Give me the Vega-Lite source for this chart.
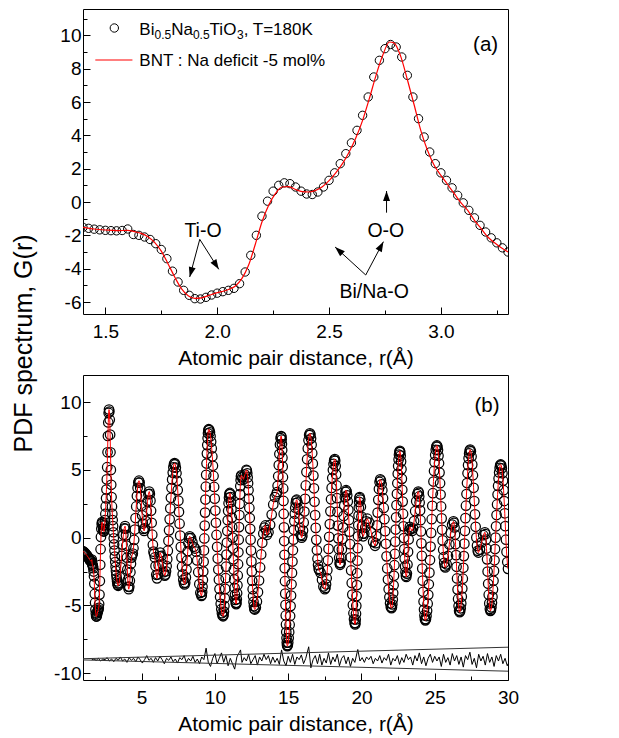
{
"$schema": "https://vega.github.io/schema/vega-lite/v6.json",
"padding": {"left": 10, "top": 8, "right": 5, "bottom": 5},
"bounds": "flush",
"spacing": 61,
"config": {
  "font": "Liberation Sans",
  "view": {"stroke": "black", "strokeWidth": 1},
  "axis": {"domain": false, "grid": false, "tickColor": "black", "tickWidth": 1, "labelColor": "black", "labelFontSize": 19, "labelFont": "Liberation Sans", "titleFont": "Liberation Sans", "titleFontSize": 21, "titleFontWeight": "normal", "titleColor": "black", "labelFlush": false, "labelOverlap": false},
  "text": {"font": "Liberation Sans", "color": "black"}
},
"datasets": {
"pdf": [
{"r":1.0,"g":-1.0},{"r":1.05,"g":-1.05},{"r":1.1,"g":-1.1},{"r":1.15,"g":-1.16},{"r":1.2,"g":-1.22},{"r":1.25,"g":-1.29},{"r":1.3,"g":-1.36},{"r":1.35,"g":-1.44},
{"r":1.4,"g":-1.52},{"r":1.425,"g":-1.58},{"r":1.45,"g":-1.63},{"r":1.475,"g":-1.67},{"r":1.5,"g":-1.7},{"r":1.525,"g":-1.72},{"r":1.55,"g":-1.73},{"r":1.575,"g":-1.71},{"r":1.6,"g":-1.62},{"r":1.625,"g":-1.95},{"r":1.65,"g":-2.0},{"r":1.675,"g":-2.1},{"r":1.7,"g":-2.25},{"r":1.725,"g":-2.5},{"r":1.75,"g":-2.85},{"r":1.775,"g":-3.4},{"r":1.8,"g":-4.15},{"r":1.825,"g":-4.8},{"r":1.85,"g":-5.3},{"r":1.875,"g":-5.6},{"r":1.9,"g":-5.8},{"r":1.925,"g":-5.82},{"r":1.95,"g":-5.72},{"r":1.975,"g":-5.58},{"r":2.0,"g":-5.47},{"r":2.025,"g":-5.38},{"r":2.05,"g":-5.3},{"r":2.075,"g":-5.18},{"r":2.1,"g":-4.9},{"r":2.125,"g":-4.2},{"r":2.15,"g":-3.2},{"r":2.175,"g":-2.0},{"r":2.2,"g":-0.85},{"r":2.225,"g":0.05},{"r":2.25,"g":0.65},{"r":2.275,"g":1.0},{"r":2.3,"g":1.15},{"r":2.325,"g":1.1},{"r":2.35,"g":0.9},{"r":2.375,"g":0.65},{"r":2.4,"g":0.48},{"r":2.425,"g":0.45},{"r":2.45,"g":0.6},{"r":2.475,"g":0.9},{"r":2.5,"g":1.3},{"r":2.525,"g":1.75},{"r":2.55,"g":2.3},{"r":2.575,"g":2.9},{"r":2.6,"g":3.55},{"r":2.625,"g":4.3},{"r":2.65,"g":5.2},{"r":2.675,"g":6.3},{"r":2.7,"g":7.5},{"r":2.725,"g":8.5},{"r":2.75,"g":9.2},{"r":2.775,"g":9.45},{"r":2.8,"g":9.3},{"r":2.825,"g":8.7},{"r":2.85,"g":7.6},{"r":2.875,"g":6.3},{"r":2.9,"g":5.0},{"r":2.925,"g":3.9},{"r":2.95,"g":3.0},{"r":2.975,"g":2.3},{"r":3.0,"g":1.75},{"r":3.025,"g":1.3},{"r":3.05,"g":0.85},{"r":3.075,"g":0.4},{"r":3.1,"g":-0.05},{"r":3.125,"g":-0.5},{"r":3.15,"g":-0.95},{"r":3.175,"g":-1.4},{"r":3.2,"g":-1.8},{"r":3.225,"g":-2.15},{"r":3.25,"g":-2.45},{"r":3.275,"g":-2.75},{"r":3.3,"g":-3.0},{"r":3.325,"g":-3.22},{"r":3.35,"g":-3.38},{"r":3.375,"g":-3.49},{"r":3.4,"g":-3.55},
{"r":3.459,"g":-3.38},{"r":3.518,"g":-2.91},{"r":3.576,"g":-2.19},{"r":3.635,"g":-1.35},{"r":3.694,"g":-0.51},{"r":3.753,"g":0.21},{"r":3.811,"g":0.68},{"r":3.87,"g":0.85},
{"r":3.901,"g":0.67},{"r":3.933,"g":0.17},{"r":3.964,"g":-0.59},{"r":3.995,"g":-1.48},{"r":4.026,"g":-2.36},{"r":4.058,"g":-3.12},{"r":4.089,"g":-3.62},{"r":4.12,"g":-3.8},
{"r":4.158,"g":-3.63},{"r":4.197,"g":-3.18},{"r":4.235,"g":-2.55},{"r":4.273,"g":-1.93},{"r":4.312,"g":-1.47},{"r":4.35,"g":-1.3},
{"r":4.397,"g":-1.17},{"r":4.444,"g":-0.78},{"r":4.491,"g":-0.17},{"r":4.538,"g":0.6},{"r":4.585,"g":1.45},{"r":4.632,"g":2.3},{"r":4.679,"g":3.07},{"r":4.726,"g":3.67},{"r":4.773,"g":4.07},{"r":4.82,"g":4.2},
{"r":4.864,"g":4.06},{"r":4.908,"g":3.66},{"r":4.951,"g":3.06},{"r":4.995,"g":2.35},{"r":5.039,"g":1.64},{"r":5.083,"g":1.04},{"r":5.126,"g":0.64},{"r":5.17,"g":0.5},
{"r":5.228,"g":0.69},{"r":5.287,"g":1.23},{"r":5.345,"g":1.95},{"r":5.403,"g":2.68},{"r":5.462,"g":3.21},{"r":5.52,"g":3.4},
{"r":5.561,"g":3.23},{"r":5.603,"g":2.73},{"r":5.644,"g":1.98},{"r":5.685,"g":1.1},{"r":5.726,"g":0.22},{"r":5.768,"g":-0.53},{"r":5.809,"g":-1.03},{"r":5.85,"g":-1.2},
{"r":5.9,"g":-1.46},{"r":5.95,"g":-2.1},{"r":6.0,"g":-2.74},{"r":6.05,"g":-3.0},
{"r":6.105,"g":-2.72},{"r":6.16,"g":-2.05},{"r":6.215,"g":-1.38},{"r":6.27,"g":-1.1},
{"r":6.348,"g":-1.35},{"r":6.425,"g":-1.95},{"r":6.503,"g":-2.55},{"r":6.58,"g":-2.8},
{"r":6.622,"g":-2.72},{"r":6.664,"g":-2.48},{"r":6.706,"g":-2.1},{"r":6.748,"g":-1.59},{"r":6.789,"g":-0.96},{"r":6.831,"g":-0.24},{"r":6.873,"g":0.54},{"r":6.915,"g":1.35},{"r":6.957,"g":2.16},{"r":6.999,"g":2.94},{"r":7.041,"g":3.66},{"r":7.083,"g":4.29},{"r":7.124,"g":4.8},{"r":7.166,"g":5.19},{"r":7.208,"g":5.42},{"r":7.25,"g":5.5},
{"r":7.293,"g":5.41},{"r":7.335,"g":5.16},{"r":7.378,"g":4.75},{"r":7.42,"g":4.19},{"r":7.463,"g":3.51},{"r":7.505,"g":2.73},{"r":7.548,"g":1.9},{"r":7.59,"g":1.03},{"r":7.633,"g":0.15},{"r":7.675,"g":-0.68},{"r":7.718,"g":-1.46},{"r":7.76,"g":-2.14},{"r":7.803,"g":-2.7},{"r":7.845,"g":-3.11},{"r":7.888,"g":-3.36},{"r":7.93,"g":-3.45},
{"r":7.974,"g":-3.32},{"r":8.018,"g":-2.93},{"r":8.061,"g":-2.35},{"r":8.105,"g":-1.68},{"r":8.149,"g":-1.0},{"r":8.193,"g":-0.42},{"r":8.236,"g":-0.04},{"r":8.28,"g":0.1},
{"r":8.373,"g":-0.03},{"r":8.465,"g":-0.35},{"r":8.558,"g":-0.67},{"r":8.65,"g":-0.8},
{"r":8.722,"g":-1.03},{"r":8.793,"g":-1.68},{"r":8.865,"g":-2.55},{"r":8.937,"g":-3.43},{"r":9.008,"g":-4.07},{"r":9.08,"g":-4.3},
{"r":9.105,"g":-4.23},{"r":9.13,"g":-4.0},{"r":9.155,"g":-3.63},{"r":9.18,"g":-3.13},{"r":9.205,"g":-2.5},{"r":9.23,"g":-1.77},{"r":9.255,"g":-0.94},{"r":9.28,"g":-0.06},{"r":9.305,"g":0.89},{"r":9.33,"g":1.85},{"r":9.355,"g":2.81},{"r":9.38,"g":3.76},{"r":9.405,"g":4.64},{"r":9.43,"g":5.47},{"r":9.455,"g":6.2},{"r":9.48,"g":6.83},{"r":9.505,"g":7.33},{"r":9.53,"g":7.7},{"r":9.555,"g":7.93},{"r":9.58,"g":8.0},
{"r":9.621,"g":7.94},{"r":9.662,"g":7.77},{"r":9.703,"g":7.48},{"r":9.743,"g":7.08},{"r":9.784,"g":6.58},{"r":9.825,"g":5.99},{"r":9.866,"g":5.3},{"r":9.907,"g":4.55},{"r":9.948,"g":3.74},{"r":9.988,"g":2.88},{"r":10.029,"g":2.0},{"r":10.07,"g":1.1},{"r":10.111,"g":0.2},{"r":10.152,"g":-0.68},{"r":10.193,"g":-1.54},{"r":10.233,"g":-2.35},{"r":10.274,"g":-3.1},{"r":10.315,"g":-3.79},{"r":10.356,"g":-4.38},{"r":10.397,"g":-4.88},{"r":10.438,"g":-5.28},{"r":10.479,"g":-5.57},{"r":10.519,"g":-5.74},{"r":10.56,"g":-5.8},
{"r":10.589,"g":-5.71},{"r":10.618,"g":-5.45},{"r":10.646,"g":-5.04},{"r":10.675,"g":-4.47},{"r":10.704,"g":-3.78},{"r":10.733,"g":-2.99},{"r":10.761,"g":-2.14},{"r":10.79,"g":-1.25},{"r":10.819,"g":-0.36},{"r":10.848,"g":0.49},{"r":10.876,"g":1.28},{"r":10.905,"g":1.97},{"r":10.934,"g":2.54},{"r":10.963,"g":2.95},{"r":10.991,"g":3.21},{"r":11.02,"g":3.3},
{"r":11.047,"g":3.22},{"r":11.074,"g":2.99},{"r":11.101,"g":2.61},{"r":11.128,"g":2.1},{"r":11.154,"g":1.48},{"r":11.181,"g":0.77},{"r":11.208,"g":0.0},{"r":11.235,"g":-0.8},{"r":11.262,"g":-1.6},{"r":11.289,"g":-2.37},{"r":11.316,"g":-3.08},{"r":11.343,"g":-3.7},{"r":11.369,"g":-4.21},{"r":11.396,"g":-4.59},{"r":11.423,"g":-4.82},{"r":11.45,"g":-4.9},
{"r":11.472,"g":-4.81},{"r":11.494,"g":-4.54},{"r":11.516,"g":-4.1},{"r":11.538,"g":-3.51},{"r":11.559,"g":-2.79},{"r":11.581,"g":-1.96},{"r":11.603,"g":-1.08},{"r":11.625,"g":-0.15},{"r":11.647,"g":0.78},{"r":11.669,"g":1.67},{"r":11.691,"g":2.49},{"r":11.713,"g":3.21},{"r":11.734,"g":3.8},{"r":11.756,"g":4.24},{"r":11.778,"g":4.51},{"r":11.8,"g":4.6},
{"r":11.875,"g":4.45},{"r":11.95,"g":4.3},{"r":12.05,"g":4.65},{"r":12.15,"g":5.0},
{"r":12.179,"g":4.94},{"r":12.207,"g":4.75},{"r":12.236,"g":4.44},{"r":12.264,"g":4.02},{"r":12.293,"g":3.5},{"r":12.321,"g":2.88},{"r":12.35,"g":2.19},{"r":12.378,"g":1.45},{"r":12.407,"g":0.65},{"r":12.435,"g":-0.15},{"r":12.464,"g":-0.95},{"r":12.492,"g":-1.75},{"r":12.521,"g":-2.49},{"r":12.549,"g":-3.18},{"r":12.578,"g":-3.8},{"r":12.606,"g":-4.32},{"r":12.635,"g":-4.74},{"r":12.663,"g":-5.05},{"r":12.692,"g":-5.24},{"r":12.72,"g":-5.3},
{"r":12.793,"g":-5.15},{"r":12.866,"g":-4.71},{"r":12.939,"g":-4.02},{"r":13.012,"g":-3.16},{"r":13.085,"g":-2.2},{"r":13.158,"g":-1.24},{"r":13.231,"g":-0.38},{"r":13.304,"g":0.31},{"r":13.377,"g":0.75},{"r":13.45,"g":0.9},
{"r":13.5,"g":0.55},{"r":13.55,"g":0.2},
{"r":13.658,"g":0.4},{"r":13.767,"g":0.95},{"r":13.875,"g":1.7},{"r":13.983,"g":2.45},{"r":14.092,"g":3.0},{"r":14.2,"g":3.2},
{"r":14.24,"g":3.36},{"r":14.28,"g":3.83},{"r":14.32,"g":4.53},{"r":14.36,"g":5.35},{"r":14.4,"g":6.17},{"r":14.44,"g":6.87},{"r":14.48,"g":7.34},{"r":14.52,"g":7.5},
{"r":14.538,"g":7.43},{"r":14.555,"g":7.24},{"r":14.573,"g":6.91},{"r":14.59,"g":6.46},{"r":14.608,"g":5.9},{"r":14.625,"g":5.24},{"r":14.643,"g":4.46},{"r":14.66,"g":3.63},{"r":14.678,"g":2.71},{"r":14.695,"g":1.75},{"r":14.713,"g":0.76},{"r":14.73,"g":-0.25},{"r":14.748,"g":-1.26},{"r":14.765,"g":-2.25},{"r":14.783,"g":-3.21},{"r":14.8,"g":-4.13},{"r":14.818,"g":-4.96},{"r":14.835,"g":-5.74},{"r":14.853,"g":-6.4},{"r":14.87,"g":-6.96},{"r":14.888,"g":-7.41},{"r":14.905,"g":-7.74},{"r":14.923,"g":-7.93},{"r":14.94,"g":-8.0},
{"r":14.972,"g":-7.94},{"r":15.004,"g":-7.74},{"r":15.036,"g":-7.41},{"r":15.068,"g":-6.97},{"r":15.1,"g":-6.42},{"r":15.132,"g":-5.78},{"r":15.164,"g":-5.05},{"r":15.196,"g":-4.27},{"r":15.228,"g":-3.44},{"r":15.26,"g":-2.6},{"r":15.292,"g":-1.76},{"r":15.324,"g":-0.93},{"r":15.356,"g":-0.15},{"r":15.388,"g":0.58},{"r":15.42,"g":1.22},{"r":15.452,"g":1.77},{"r":15.484,"g":2.21},{"r":15.516,"g":2.54},{"r":15.548,"g":2.74},{"r":15.58,"g":2.8},
{"r":15.637,"g":2.61},{"r":15.693,"g":2.1},{"r":15.75,"g":1.4},{"r":15.807,"g":0.7},{"r":15.863,"g":0.19},{"r":15.92,"g":0.0},
{"r":15.967,"g":0.13},{"r":16.013,"g":0.52},{"r":16.06,"g":1.12},{"r":16.107,"g":1.93},{"r":16.153,"g":2.86},{"r":16.2,"g":3.85},{"r":16.247,"g":4.84},{"r":16.293,"g":5.78},{"r":16.34,"g":6.58},{"r":16.387,"g":7.18},{"r":16.433,"g":7.57},{"r":16.48,"g":7.7},
{"r":16.52,"g":7.6},{"r":16.56,"g":7.32},{"r":16.6,"g":6.85},{"r":16.64,"g":6.23},{"r":16.68,"g":5.46},{"r":16.72,"g":4.58},{"r":16.76,"g":3.64},{"r":16.8,"g":2.65},{"r":16.84,"g":1.66},{"r":16.88,"g":0.72},{"r":16.92,"g":-0.16},{"r":16.96,"g":-0.93},{"r":17.0,"g":-1.55},{"r":17.04,"g":-2.02},{"r":17.08,"g":-2.3},{"r":17.12,"g":-2.4},
{"r":17.215,"g":-2.6},{"r":17.31,"g":-3.1},{"r":17.405,"g":-3.6},{"r":17.5,"g":-3.8},
{"r":17.543,"g":-3.71},{"r":17.585,"g":-3.44},{"r":17.628,"g":-2.99},{"r":17.67,"g":-2.4},{"r":17.713,"g":-1.67},{"r":17.755,"g":-0.83},{"r":17.798,"g":0.06},{"r":17.84,"g":1.0},{"r":17.883,"g":1.94},{"r":17.925,"g":2.83},{"r":17.968,"g":3.67},{"r":18.01,"g":4.4},{"r":18.053,"g":4.99},{"r":18.095,"g":5.44},{"r":18.138,"g":5.7},{"r":18.18,"g":5.8},
{"r":18.21,"g":5.67},{"r":18.24,"g":5.28},{"r":18.27,"g":4.66},{"r":18.3,"g":3.85},{"r":18.33,"g":2.91},{"r":18.36,"g":1.9},{"r":18.39,"g":0.89},{"r":18.42,"g":-0.05},{"r":18.45,"g":-0.86},{"r":18.48,"g":-1.48},{"r":18.51,"g":-1.87},{"r":18.54,"g":-2.0},
{"r":18.581,"g":-1.87},{"r":18.622,"g":-1.48},{"r":18.663,"g":-0.87},{"r":18.704,"g":-0.1},{"r":18.745,"g":0.75},{"r":18.786,"g":1.6},{"r":18.827,"g":2.37},{"r":18.868,"g":2.98},{"r":18.909,"g":3.37},{"r":18.95,"g":3.5},
{"r":18.989,"g":3.41},{"r":19.028,"g":3.12},{"r":19.066,"g":2.67},{"r":19.105,"g":2.05},{"r":19.144,"g":1.3},{"r":19.183,"g":0.44},{"r":19.221,"g":-0.48},{"r":19.26,"g":-1.45},{"r":19.299,"g":-2.42},{"r":19.338,"g":-3.34},{"r":19.376,"g":-4.2},{"r":19.415,"g":-4.96},{"r":19.454,"g":-5.57},{"r":19.493,"g":-6.02},{"r":19.531,"g":-6.3},{"r":19.57,"g":-6.4},
{"r":19.589,"g":-6.31},{"r":19.609,"g":-6.04},{"r":19.628,"g":-5.61},{"r":19.648,"g":-5.03},{"r":19.667,"g":-4.31},{"r":19.686,"g":-3.5},{"r":19.706,"g":-2.62},{"r":19.725,"g":-1.7},{"r":19.744,"g":-0.78},{"r":19.764,"g":0.1},{"r":19.783,"g":0.91},{"r":19.803,"g":1.63},{"r":19.822,"g":2.21},{"r":19.841,"g":2.64},{"r":19.861,"g":2.91},{"r":19.88,"g":3.0},
{"r":19.92,"g":2.81},{"r":19.96,"g":2.28},{"r":20.0,"g":1.55},{"r":20.04,"g":0.83},{"r":20.08,"g":0.29},{"r":20.12,"g":0.1},
{"r":20.19,"g":0.29},{"r":20.26,"g":0.75},{"r":20.33,"g":1.21},{"r":20.4,"g":1.4},
{"r":20.533,"g":1.11},{"r":20.665,"g":0.4},{"r":20.798,"g":-0.31},{"r":20.93,"g":-0.6},
{"r":20.974,"g":-0.41},{"r":21.018,"g":0.12},{"r":21.061,"g":0.91},{"r":21.105,"g":1.85},{"r":21.149,"g":2.79},{"r":21.193,"g":3.59},{"r":21.236,"g":4.11},{"r":21.28,"g":4.3},
{"r":21.328,"g":4.21},{"r":21.376,"g":3.94},{"r":21.424,"g":3.5},{"r":21.473,"g":2.91},{"r":21.521,"g":2.19},{"r":21.569,"g":1.36},{"r":21.617,"g":0.48},{"r":21.665,"g":-0.45},{"r":21.713,"g":-1.38},{"r":21.761,"g":-2.27},{"r":21.809,"g":-3.09},{"r":21.858,"g":-3.81},{"r":21.906,"g":-4.4},{"r":21.954,"g":-4.84},{"r":22.002,"g":-5.11},{"r":22.05,"g":-5.2},
{"r":22.079,"g":-5.13},{"r":22.107,"g":-4.92},{"r":22.136,"g":-4.57},{"r":22.164,"g":-4.09},{"r":22.193,"g":-3.51},{"r":22.221,"g":-2.81},{"r":22.25,"g":-2.03},{"r":22.278,"g":-1.2},{"r":22.307,"g":-0.3},{"r":22.335,"g":0.6},{"r":22.364,"g":1.5},{"r":22.392,"g":2.4},{"r":22.421,"g":3.23},{"r":22.449,"g":4.01},{"r":22.478,"g":4.71},{"r":22.506,"g":5.29},{"r":22.535,"g":5.77},{"r":22.563,"g":6.12},{"r":22.592,"g":6.33},{"r":22.62,"g":6.4},
{"r":22.648,"g":6.31},{"r":22.675,"g":6.05},{"r":22.703,"g":5.62},{"r":22.73,"g":5.04},{"r":22.758,"g":4.34},{"r":22.785,"g":3.53},{"r":22.813,"g":2.66},{"r":22.84,"g":1.75},{"r":22.868,"g":0.84},{"r":22.895,"g":-0.03},{"r":22.923,"g":-0.84},{"r":22.95,"g":-1.54},{"r":22.978,"g":-2.12},{"r":23.005,"g":-2.55},{"r":23.033,"g":-2.81},{"r":23.06,"g":-2.9},
{"r":23.1,"g":-2.65},{"r":23.14,"g":-1.98},{"r":23.18,"g":-1.05},{"r":23.22,"g":-0.13},{"r":23.26,"g":0.55},{"r":23.3,"g":0.8},
{"r":23.375,"g":0.65},{"r":23.45,"g":0.5},
{"r":23.522,"g":0.69},{"r":23.593,"g":1.23},{"r":23.665,"g":1.95},{"r":23.737,"g":2.68},{"r":23.808,"g":3.21},{"r":23.88,"g":3.4},
{"r":23.91,"g":3.31},{"r":23.94,"g":3.04},{"r":23.97,"g":2.6},{"r":24.0,"g":2.01},{"r":24.03,"g":1.29},{"r":24.06,"g":0.46},{"r":24.09,"g":-0.42},{"r":24.12,"g":-1.35},{"r":24.15,"g":-2.28},{"r":24.18,"g":-3.17},{"r":24.21,"g":-3.99},{"r":24.24,"g":-4.71},{"r":24.27,"g":-5.3},{"r":24.3,"g":-5.74},{"r":24.33,"g":-6.01},{"r":24.36,"g":-6.1},
{"r":24.4,"g":-6.02},{"r":24.439,"g":-5.78},{"r":24.479,"g":-5.4},{"r":24.518,"g":-4.87},{"r":24.558,"g":-4.22},{"r":24.597,"g":-3.44},{"r":24.637,"g":-2.58},{"r":24.676,"g":-1.65},{"r":24.716,"g":-0.66},{"r":24.755,"g":0.35},{"r":24.795,"g":1.36},{"r":24.834,"g":2.35},{"r":24.874,"g":3.28},{"r":24.913,"g":4.14},{"r":24.953,"g":4.92},{"r":24.992,"g":5.57},{"r":25.032,"g":6.1},{"r":25.071,"g":6.48},{"r":25.111,"g":6.72},{"r":25.15,"g":6.8},
{"r":25.186,"g":6.71},{"r":25.221,"g":6.46},{"r":25.257,"g":6.04},{"r":25.293,"g":5.49},{"r":25.328,"g":4.8},{"r":25.364,"g":4.02},{"r":25.399,"g":3.18},{"r":25.435,"g":2.3},{"r":25.471,"g":1.42},{"r":25.506,"g":0.58},{"r":25.542,"g":-0.2},{"r":25.578,"g":-0.89},{"r":25.613,"g":-1.44},{"r":25.649,"g":-1.86},{"r":25.684,"g":-2.11},{"r":25.72,"g":-2.2},
{"r":25.813,"g":-1.97},{"r":25.907,"g":-1.35},{"r":26.0,"g":-0.5},{"r":26.093,"g":0.35},{"r":26.187,"g":0.97},{"r":26.28,"g":1.2},
{"r":26.315,"g":1.09},{"r":26.35,"g":0.75},{"r":26.385,"g":0.22},{"r":26.42,"g":-0.48},{"r":26.455,"g":-1.29},{"r":26.49,"g":-2.15},{"r":26.525,"g":-3.01},{"r":26.56,"g":-3.83},{"r":26.595,"g":-4.52},{"r":26.63,"g":-5.05},{"r":26.665,"g":-5.39},{"r":26.7,"g":-5.5},
{"r":26.736,"g":-5.43},{"r":26.772,"g":-5.21},{"r":26.808,"g":-4.85},{"r":26.844,"g":-4.35},{"r":26.88,"g":-3.75},{"r":26.916,"g":-3.03},{"r":26.952,"g":-2.22},{"r":26.988,"g":-1.36},{"r":27.024,"g":-0.44},{"r":27.06,"g":0.5},{"r":27.096,"g":1.44},{"r":27.132,"g":2.36},{"r":27.168,"g":3.22},{"r":27.204,"g":4.03},{"r":27.24,"g":4.75},{"r":27.276,"g":5.35},{"r":27.312,"g":5.85},{"r":27.348,"g":6.21},{"r":27.384,"g":6.43},{"r":27.42,"g":6.5},
{"r":27.467,"g":6.37},{"r":27.513,"g":5.99},{"r":27.56,"g":5.39},{"r":27.607,"g":4.6},{"r":27.653,"g":3.68},{"r":27.7,"g":2.7},{"r":27.747,"g":1.72},{"r":27.793,"g":0.8},{"r":27.84,"g":0.01},{"r":27.887,"g":-0.59},{"r":27.933,"g":-0.97},{"r":27.98,"g":-1.1},
{"r":28.09,"g":-0.88},{"r":28.2,"g":-0.35},{"r":28.31,"g":0.18},{"r":28.42,"g":0.4},
{"r":28.458,"g":0.26},{"r":28.496,"g":-0.15},{"r":28.534,"g":-0.8},{"r":28.572,"g":-1.6},{"r":28.61,"g":-2.5},{"r":28.648,"g":-3.4},{"r":28.686,"g":-4.21},{"r":28.724,"g":-4.85},{"r":28.762,"g":-5.26},{"r":28.8,"g":-5.4},
{"r":28.835,"g":-5.34},{"r":28.87,"g":-5.14},{"r":28.905,"g":-4.81},{"r":28.94,"g":-4.37},{"r":28.975,"g":-3.82},{"r":29.01,"g":-3.18},{"r":29.045,"g":-2.45},{"r":29.08,"g":-1.67},{"r":29.115,"g":-0.84},{"r":29.15,"g":0.0},{"r":29.185,"g":0.84},{"r":29.22,"g":1.67},{"r":29.255,"g":2.45},{"r":29.29,"g":3.18},{"r":29.325,"g":3.82},{"r":29.36,"g":4.37},{"r":29.395,"g":4.81},{"r":29.43,"g":5.14},{"r":29.465,"g":5.34},{"r":29.5,"g":5.4},
{"r":29.54,"g":5.33},{"r":29.58,"g":5.12},{"r":29.62,"g":4.75},{"r":29.66,"g":4.2},{"r":29.7,"g":3.5},{"r":29.74,"g":2.7},{"r":29.78,"g":1.8},{"r":29.82,"g":0.85},{"r":29.86,"g":-0.15},{"r":29.9,"g":-1.05},{"r":29.95,"g":-1.8},{"r":30.0,"g":-2.3}
],
"fit": [
{"r":1.4,"g":-1.52},{"r":1.45,"g":-1.62},{"r":1.5,"g":-1.68},{"r":1.55,"g":-1.72},{"r":1.6,"g":-1.7},{"r":1.63,"g":-1.78},{"r":1.66,"g":-1.88},{"r":1.69,"g":-2.08},{"r":1.72,"g":-2.42},{"r":1.75,"g":-2.95},{"r":1.78,"g":-3.7},{"r":1.81,"g":-4.5},{"r":1.84,"g":-5.2},{"r":1.87,"g":-5.62},{"r":1.9,"g":-5.78},{"r":1.93,"g":-5.75},{"r":1.96,"g":-5.62},{"r":1.99,"g":-5.48},{"r":2.02,"g":-5.38},{"r":2.05,"g":-5.25},{"r":2.08,"g":-5.05},{"r":2.11,"g":-4.6},{"r":2.14,"g":-3.8},{"r":2.17,"g":-2.55},{"r":2.2,"g":-1.2},{"r":2.23,"g":-0.2},{"r":2.26,"g":0.5},{"r":2.29,"g":0.9},{"r":2.32,"g":0.92},{"r":2.35,"g":0.75},{"r":2.38,"g":0.62},{"r":2.41,"g":0.6},{"r":2.44,"g":0.7},{"r":2.47,"g":0.92},{"r":2.5,"g":1.28},{"r":2.53,"g":1.75},{"r":2.56,"g":2.3},{"r":2.59,"g":3.0},{"r":2.62,"g":3.85},{"r":2.65,"g":4.9},{"r":2.68,"g":6.2},{"r":2.71,"g":7.6},{"r":2.74,"g":8.8},{"r":2.77,"g":9.6},{"r":2.79,"g":9.55},{"r":2.82,"g":8.75},{"r":2.85,"g":7.35},{"r":2.88,"g":5.85},{"r":2.91,"g":4.3},{"r":2.94,"g":3.1},{"r":2.97,"g":2.2},{"r":3.0,"g":1.6},{"r":3.03,"g":1.05},{"r":3.06,"g":0.5},{"r":3.09,"g":-0.05},{"r":3.12,"g":-0.5},{"r":3.15,"g":-1.1},{"r":3.18,"g":-1.6},{"r":3.21,"g":-2.1},{"r":3.24,"g":-2.45},{"r":3.27,"g":-2.75},{"r":3.3,"g":-3.0}
],
"diff": [
{"r":1.6,"g":-9.0},{"r":1.75,"g":-8.95},{"r":1.9,"g":-9.05},{"r":2.05,"g":-8.9},{"r":2.2,"g":-9.1},{"r":2.35,"g":-8.95},{"r":2.5,"g":-9.0},{"r":2.65,"g":-8.85},{"r":2.8,"g":-9.1},{"r":2.95,"g":-8.95},{"r":3.1,"g":-9.15},{"r":3.25,"g":-8.9},{"r":3.4,"g":-9.05},{"r":3.55,"g":-8.8},{"r":3.7,"g":-9.1},{"r":3.85,"g":-8.95},{"r":4.0,"g":-9.2},{"r":4.15,"g":-8.85},{"r":4.3,"g":-9.05},{"r":4.45,"g":-8.9},{"r":4.6,"g":-9.15},{"r":4.75,"g":-8.8},{"r":4.9,"g":-9.0},{"r":5.05,"g":-9.25},{"r":5.2,"g":-9.0},{"r":5.35,"g":-8.7},{"r":5.5,"g":-9.05},{"r":5.65,"g":-8.9},{"r":5.8,"g":-9.2},{"r":5.95,"g":-8.85},{"r":6.1,"g":-9.1},{"r":6.25,"g":-8.75},{"r":6.4,"g":-9.0},{"r":6.55,"g":-9.3},{"r":6.7,"g":-8.9},{"r":6.85,"g":-9.05},{"r":7.0,"g":-8.8},{"r":7.15,"g":-9.15},{"r":7.3,"g":-8.95},{"r":7.45,"g":-9.25},{"r":7.6,"g":-8.85},{"r":7.75,"g":-9.0},{"r":7.9,"g":-8.7},{"r":8.05,"g":-9.2},{"r":8.2,"g":-8.9},{"r":8.35,"g":-9.1},{"r":8.5,"g":-8.75},{"r":8.65,"g":-9.2},{"r":8.8,"g":-8.95},{"r":8.95,"g":-9.3},{"r":9.1,"g":-8.8},{"r":9.25,"g":-9.0},{"r":9.4,"g":-8.15},{"r":9.55,"g":-9.2},{"r":9.7,"g":-9.5},{"r":9.85,"g":-8.9},{"r":10.0,"g":-8.55},{"r":10.15,"g":-9.3},{"r":10.3,"g":-8.9},{"r":10.45,"g":-8.5},{"r":10.6,"g":-9.2},{"r":10.75,"g":-8.7},{"r":10.9,"g":-9.45},{"r":11.05,"g":-8.9},{"r":11.2,"g":-9.3},{"r":11.35,"g":-9.7},{"r":11.5,"g":-8.8},{"r":11.65,"g":-8.5},{"r":11.75,"g":-8.28},{"r":11.85,"g":-9.2},{"r":12.0,"g":-8.85},{"r":12.15,"g":-9.1},{"r":12.3,"g":-8.6},{"r":12.45,"g":-9.3},{"r":12.6,"g":-9.0},{"r":12.75,"g":-8.7},{"r":12.9,"g":-9.4},{"r":13.05,"g":-8.8},{"r":13.2,"g":-9.1},{"r":13.35,"g":-8.6},{"r":13.5,"g":-9.0},{"r":13.65,"g":-8.7},{"r":13.8,"g":-9.3},{"r":13.95,"g":-8.8},{"r":14.1,"g":-9.2},{"r":14.25,"g":-8.9},{"r":14.4,"g":-9.35},{"r":14.55,"g":-8.28},{"r":14.7,"g":-9.1},{"r":14.85,"g":-9.45},{"r":15.0,"g":-8.75},{"r":15.15,"g":-9.2},{"r":15.3,"g":-8.6},{"r":15.45,"g":-9.35},{"r":15.6,"g":-8.8},{"r":15.75,"g":-9.0},{"r":15.9,"g":-8.65},{"r":16.05,"g":-9.3},{"r":16.2,"g":-8.9},{"r":16.4,"g":-8.05},{"r":16.55,"g":-9.6},{"r":16.7,"g":-9.0},{"r":16.85,"g":-8.7},{"r":17.0,"g":-9.3},{"r":17.15,"g":-8.6},{"r":17.3,"g":-9.4},{"r":17.45,"g":-8.9},{"r":17.6,"g":-9.25},{"r":17.75,"g":-8.5},{"r":17.9,"g":-9.35},{"r":18.05,"g":-8.8},{"r":18.2,"g":-9.15},{"r":18.35,"g":-8.6},{"r":18.5,"g":-9.45},{"r":18.65,"g":-8.9},{"r":18.8,"g":-8.7},{"r":18.95,"g":-9.3},{"r":19.1,"g":-8.8},{"r":19.25,"g":-9.5},{"r":19.4,"g":-8.9},{"r":19.55,"g":-9.2},{"r":19.75,"g":-8.25},{"r":19.9,"g":-9.1},{"r":20.05,"g":-8.85},{"r":20.2,"g":-9.2},{"r":20.35,"g":-8.8},{"r":20.5,"g":-9.0},{"r":20.65,"g":-8.75},{"r":20.8,"g":-9.3},{"r":20.95,"g":-8.9},{"r":21.1,"g":-9.1},{"r":21.25,"g":-8.7},{"r":21.4,"g":-9.25},{"r":21.55,"g":-8.85},{"r":21.7,"g":-9.05},{"r":21.85,"g":-8.6},{"r":22.0,"g":-9.4},{"r":22.15,"g":-8.9},{"r":22.3,"g":-9.1},{"r":22.45,"g":-8.7},{"r":22.6,"g":-9.35},{"r":22.75,"g":-8.85},{"r":22.9,"g":-9.2},{"r":23.05,"g":-8.6},{"r":23.2,"g":-9.0},{"r":23.35,"g":-8.8},{"r":23.5,"g":-9.4},{"r":23.65,"g":-8.7},{"r":23.8,"g":-9.1},{"r":23.95,"g":-8.5},{"r":24.1,"g":-9.3},{"r":24.25,"g":-8.8},{"r":24.4,"g":-9.45},{"r":24.55,"g":-8.9},{"r":24.7,"g":-8.6},{"r":24.85,"g":-9.2},{"r":25.0,"g":-8.75},{"r":25.15,"g":-9.1},{"r":25.3,"g":-8.8},{"r":25.45,"g":-9.5},{"r":25.6,"g":-8.6},{"r":25.75,"g":-9.2},{"r":25.9,"g":-8.85},{"r":26.05,"g":-9.4},{"r":26.2,"g":-8.55},{"r":26.35,"g":-9.1},{"r":26.5,"g":-8.7},{"r":26.65,"g":-9.35},{"r":26.8,"g":-8.8},{"r":26.95,"g":-9.55},{"r":27.1,"g":-8.7},{"r":27.25,"g":-9.0},{"r":27.4,"g":-8.45},{"r":27.55,"g":-9.35},{"r":27.7,"g":-8.9},{"r":27.85,"g":-9.6},{"r":28.0,"g":-8.6},{"r":28.15,"g":-9.1},{"r":28.3,"g":-8.75},{"r":28.45,"g":-9.4},{"r":28.6,"g":-8.55},{"r":28.75,"g":-9.2},{"r":28.9,"g":-8.8},{"r":29.05,"g":-9.5},{"r":29.2,"g":-8.7},{"r":29.35,"g":-9.1},{"r":29.5,"g":-8.6},{"r":29.65,"g":-9.3},{"r":29.8,"g":-8.9},{"r":29.95,"g":-9.45},{"r":30.0,"g":-9.3}
],
"env": [
{"r":1,"g":-8.93,"s":"upper"},{"r":30,"g":-8.08,"s":"upper"},{"r":1,"g":-9.02,"s":"lower"},{"r":30,"g":-9.85,"s":"lower"}
]
},
"vconcat": [
{
 "width": 425, "height": 305,
 "resolve": {"axis": {"x": "independent", "y": "independent"}},
 "layer": [
  {"data": {"name": "pdf"}, "transform": [{"filter": {"field": "r", "range": [1.39, 3.31]}}],
   "mark": {"type": "point", "shape": "circle", "filled": false, "stroke": "black", "strokeWidth": 1, "size": 70, "opacity": 1, "clip": true},
   "encoding": {
    "x": {"field": "r", "type": "quantitative", "scale": {"domain": [1.4, 3.3], "nice": false, "zero": false},
          "axis": {"orient": "bottom", "values": [1.5, 2, 2.5, 3], "format": ".1f", "tickSize": -7, "labelPadding": 15, "title": "Atomic pair distance, r(Å)", "titlePadding": 6}},
    "y": {"field": "g", "type": "quantitative", "scale": {"domain": [-6.72, 11.58], "nice": false, "zero": false},
          "axis": {"orient": "left", "values": [-6, -4, -2, 0, 2, 4, 6, 8, 10], "format": "d", "labelExpr": "replace(datum.label, '−', '-')", "tickSize": -7, "labelPadding": 9, "title": "PDF spectrum, G(r)", "titleFontSize": 25, "titleX": -52, "titleY": 334, "titleBaseline": "alphabetic"}}
   }},
  {"data": {"name": "fit"},
   "mark": {"type": "line", "color": "red", "strokeWidth": 1.2, "interpolate": "monotone", "clip": true},
   "encoding": {
    "x": {"field": "r", "type": "quantitative", "axis": {"orient": "bottom", "values": [1.5, 1.75, 2, 2.25, 2.5, 2.75, 3, 3.25], "labels": false, "tickSize": -4, "title": null}},
    "y": {"field": "g", "type": "quantitative", "axis": {"orient": "left", "values": [-6, -5, -4, -3, -2, -1, 0, 1, 2, 3, 4, 5, 6, 7, 8, 9, 10, 11], "labels": false, "tickSize": -4, "title": null}}
   }},
  {"data": {"values": [{}]}, "mark": {"type": "point", "shape": "circle", "filled": false, "stroke": "black", "strokeWidth": 1, "size": 70, "opacity": 1},
   "encoding": {"x": {"datum": 1.54, "type": "quantitative", "axis": null}, "y": {"datum": 10.44, "type": "quantitative", "axis": null}}},
  {"data": {"values": [{}]}, "mark": {"type": "text", "text": "Bi", "fontSize": 17, "align": "left", "baseline": "alphabetic"},
   "encoding": {"x": {"datum": 1.652, "type": "quantitative", "axis": null}, "y": {"datum": 10.0, "type": "quantitative", "axis": null}}},
  {"data": {"values": [{}]}, "mark": {"type": "text", "text": "0.5", "fontSize": 12, "dy": 4, "align": "left", "baseline": "alphabetic"},
   "encoding": {"x": {"datum": 1.7197, "type": "quantitative", "axis": null}, "y": {"datum": 10.0, "type": "quantitative", "axis": null}}},
  {"data": {"values": [{}]}, "mark": {"type": "text", "text": "Na", "fontSize": 17, "align": "left", "baseline": "alphabetic"},
   "encoding": {"x": {"datum": 1.7943, "type": "quantitative", "axis": null}, "y": {"datum": 10.0, "type": "quantitative", "axis": null}}},
  {"data": {"values": [{}]}, "mark": {"type": "text", "text": "0.5", "fontSize": 12, "dy": 4, "align": "left", "baseline": "alphabetic"},
   "encoding": {"x": {"datum": 1.8914, "type": "quantitative", "axis": null}, "y": {"datum": 10.0, "type": "quantitative", "axis": null}}},
  {"data": {"values": [{}]}, "mark": {"type": "text", "text": "TiO", "fontSize": 17, "align": "left", "baseline": "alphabetic"},
   "encoding": {"x": {"datum": 1.966, "type": "quantitative", "axis": null}, "y": {"datum": 10.0, "type": "quantitative", "axis": null}}},
  {"data": {"values": [{}]}, "mark": {"type": "text", "text": "3", "fontSize": 12, "dy": 4, "align": "left", "baseline": "alphabetic"},
   "encoding": {"x": {"datum": 2.0884, "type": "quantitative", "axis": null}, "y": {"datum": 10.0, "type": "quantitative", "axis": null}}},
  {"data": {"values": [{}]}, "mark": {"type": "text", "text": ", T=180K", "fontSize": 17, "align": "left", "baseline": "alphabetic"},
   "encoding": {"x": {"datum": 2.1182, "type": "quantitative", "axis": null}, "y": {"datum": 10.0, "type": "quantitative", "axis": null}}},
  {"data": {"values": [{}]}, "mark": {"type": "rule", "color": "red", "strokeWidth": 1.2},
   "encoding": {"x": {"datum": 1.455, "type": "quantitative", "axis": null}, "x2": {"datum": 1.621}, "y": {"datum": 8.52, "type": "quantitative", "axis": null}}},
  {"data": {"values": [{}]}, "mark": {"type": "text", "text": "BNT : Na deficit -5 mol%", "fontSize": 17, "align": "left", "baseline": "alphabetic"},
   "encoding": {"x": {"datum": 1.652, "type": "quantitative", "axis": null}, "y": {"datum": 8.16, "type": "quantitative", "axis": null}}},
  {"data": {"values": [{}]}, "mark": {"type": "text", "text": "(a)", "fontSize": 20.5, "align": "center", "baseline": "middle"},
   "encoding": {"x": {"datum": 3.2, "type": "quantitative", "axis": null}, "y": {"datum": 9.42, "type": "quantitative", "axis": null}}},
  {"data": {"values": [{}]}, "mark": {"type": "text", "text": "Ti-O", "fontSize": 19.5, "align": "center", "baseline": "alphabetic"},
   "encoding": {"x": {"datum": 1.9366, "type": "quantitative", "axis": null}, "y": {"datum": -2.08, "type": "quantitative", "axis": null}}},
  {"data": {"values": [{}]}, "mark": {"type": "text", "text": "O-O", "fontSize": 19.5, "align": "center", "baseline": "alphabetic"},
   "encoding": {"x": {"datum": 2.7537, "type": "quantitative", "axis": null}, "y": {"datum": -2.08, "type": "quantitative", "axis": null}}},
  {"data": {"values": [{}]}, "mark": {"type": "text", "text": "Bi/Na-O", "fontSize": 19.5, "align": "center", "baseline": "alphabetic"},
   "encoding": {"x": {"datum": 2.7015, "type": "quantitative", "axis": null}, "y": {"datum": -5.74, "type": "quantitative", "axis": null}}},
  {"data": {"values": [{}]}, "mark": {"type": "rule", "color": "black", "strokeWidth": 1},
   "encoding": {"x": {"datum": 1.922, "type": "quantitative", "axis": null}, "y": {"datum": -2.24, "type": "quantitative", "axis": null}, "x2": {"datum": 1.877}, "y2": {"datum": -4.5}}},
  {"data": {"values": [{}]}, "mark": {"type": "rule", "color": "black", "strokeWidth": 1},
   "encoding": {"x": {"datum": 1.922, "type": "quantitative", "axis": null}, "y": {"datum": -2.24, "type": "quantitative", "axis": null}, "x2": {"datum": 2.007}, "y2": {"datum": -4.04}}},
  {"data": {"values": [{}]}, "mark": {"type": "rule", "color": "black", "strokeWidth": 1},
   "encoding": {"x": {"datum": 2.757, "type": "quantitative", "axis": null}, "y": {"datum": -0.64, "type": "quantitative", "axis": null}, "x2": {"datum": 2.757}, "y2": {"datum": 0.66}}},
  {"data": {"values": [{}]}, "mark": {"type": "rule", "color": "black", "strokeWidth": 1},
   "encoding": {"x": {"datum": 2.664, "type": "quantitative", "axis": null}, "y": {"datum": -4.38, "type": "quantitative", "axis": null}, "x2": {"datum": 2.527}, "y2": {"datum": -2.7}}},
  {"data": {"values": [{}]}, "mark": {"type": "rule", "color": "black", "strokeWidth": 1},
   "encoding": {"x": {"datum": 2.664, "type": "quantitative", "axis": null}, "y": {"datum": -4.38, "type": "quantitative", "axis": null}, "x2": {"datum": 2.743}, "y2": {"datum": -2.38}}},
  {"data": {"values": [{}]}, "mark": {"type": "point", "shape": "M0,0L-0.7,2L0.7,2Z", "filled": true, "color": "black", "size": 100, "angle": 194.9, "opacity": 1},
   "encoding": {"x": {"datum": 1.877, "type": "quantitative", "axis": null}, "y": {"datum": -4.5, "type": "quantitative", "axis": null}}},
  {"data": {"values": [{}]}, "mark": {"type": "point", "shape": "M0,0L-0.7,2L0.7,2Z", "filled": true, "color": "black", "size": 100, "angle": 147.7, "opacity": 1},
   "encoding": {"x": {"datum": 2.007, "type": "quantitative", "axis": null}, "y": {"datum": -4.04, "type": "quantitative", "axis": null}}},
  {"data": {"values": [{}]}, "mark": {"type": "point", "shape": "M0,0L-0.7,2L0.7,2Z", "filled": true, "color": "black", "size": 100, "angle": 0, "opacity": 1},
   "encoding": {"x": {"datum": 2.757, "type": "quantitative", "axis": null}, "y": {"datum": 0.66, "type": "quantitative", "axis": null}}},
  {"data": {"values": [{}]}, "mark": {"type": "point", "shape": "M0,0L-0.7,2L0.7,2Z", "filled": true, "color": "black", "size": 100, "angle": 312.3, "opacity": 1},
   "encoding": {"x": {"datum": 2.527, "type": "quantitative", "axis": null}, "y": {"datum": -2.7, "type": "quantitative", "axis": null}}},
  {"data": {"values": [{}]}, "mark": {"type": "point", "shape": "M0,0L-0.7,2L0.7,2Z", "filled": true, "color": "black", "size": 100, "angle": 28, "opacity": 1},
   "encoding": {"x": {"datum": 2.743, "type": "quantitative", "axis": null}, "y": {"datum": -2.38, "type": "quantitative", "axis": null}}}
 ]
},
{
 "width": 425, "height": 305,
 "resolve": {"axis": {"x": "independent", "y": "independent"}},
 "layer": [
  {"data": {"name": "pdf"},
   "mark": {"type": "point", "shape": "circle", "filled": false, "stroke": "black", "strokeWidth": 1.25, "size": 90, "opacity": 1, "clip": true},
   "encoding": {
    "x": {"field": "r", "type": "quantitative", "scale": {"domain": [1, 30], "nice": false, "zero": false},
          "axis": {"orient": "bottom", "values": [5, 10, 15, 20, 25, 30], "format": "d", "tickSize": -7, "labelPadding": 15, "title": "Atomic pair distance, r(Å)", "titlePadding": 6}},
    "y": {"field": "g", "type": "quantitative", "scale": {"domain": [-10.5, 12], "nice": false, "zero": false},
          "axis": {"orient": "left", "values": [-10, -5, 0, 5, 10], "format": "d", "labelExpr": "replace(datum.label, '−', '-')", "tickSize": -7, "labelPadding": 9, "title": null}}
   }},
  {"data": {"name": "pdf"},
   "mark": {"type": "line", "color": "red", "strokeWidth": 1, "clip": true},
   "encoding": {
    "x": {"field": "r", "type": "quantitative", "axis": {"orient": "bottom", "values": [2.5, 7.5, 12.5, 17.5, 22.5, 27.5], "labels": false, "tickSize": -4, "title": null}},
    "y": {"field": "g", "type": "quantitative", "axis": {"orient": "left", "values": [-7.5, -2.5, 2.5, 7.5], "labels": false, "tickSize": -4, "title": null}}
   }},
  {"data": {"name": "diff"},
   "mark": {"type": "line", "color": "black", "strokeWidth": 1, "clip": true},
   "encoding": {"x": {"field": "r", "type": "quantitative", "axis": null}, "y": {"field": "g", "type": "quantitative", "axis": null}}},
  {"data": {"name": "env"},
   "mark": {"type": "line", "color": "#333333", "strokeWidth": 1, "clip": true},
   "encoding": {"x": {"field": "r", "type": "quantitative", "axis": null}, "y": {"field": "g", "type": "quantitative", "axis": null}, "detail": {"field": "s"}}},
  {"data": {"values": [{}]}, "mark": {"type": "text", "text": "(b)", "fontSize": 20.5, "align": "center", "baseline": "middle"},
   "encoding": {"x": {"datum": 28.57, "type": "quantitative", "axis": null}, "y": {"datum": 9.7, "type": "quantitative", "axis": null}}}
 ]
}
]
}
